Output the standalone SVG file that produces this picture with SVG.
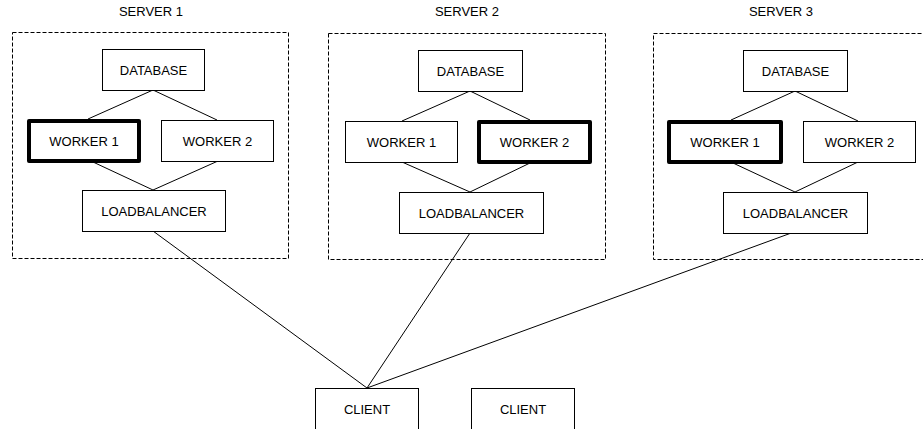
<svg xmlns="http://www.w3.org/2000/svg" width="923" height="429" viewBox="0 0 923 429">
  <style>
    .bg { fill: #ffffff; }
    .server { fill: none; stroke: #000; stroke-width: 1; stroke-dasharray: 4 2; }
    .box { fill: #fff; stroke: #000; stroke-width: 1; }
    .active { fill: #fff; stroke: #000; stroke-width: 4; stroke-linejoin: round; }
    .label { font-family: "Liberation Sans", Arial, sans-serif; font-size: 13px; fill: #000; text-anchor: middle; }
    .link { fill: none; stroke: #000; stroke-width: 1; }
  </style>
  <rect class="bg" x="0" y="0" width="923" height="429"/>

  <!-- server containers -->
  <g id="server1">
    <rect class="server" x="12.5" y="32.5" width="276" height="226"/>
    <text class="label" x="151" y="16">SERVER 1</text>
  </g>
  <g id="server2">
    <rect class="server" x="328.5" y="33.5" width="277" height="226"/>
    <text class="label" x="467" y="16">SERVER 2</text>
  </g>
  <g id="server3">
    <rect class="server" x="653.5" y="33.5" width="290" height="226"/>
    <text class="label" x="781" y="16">SERVER 3</text>
  </g>

  <!-- connectors -->
  <g id="connectors">
    <!-- server 1 -->
    <line class="link" x1="153" y1="90" x2="88" y2="119"/>
    <line class="link" x1="153" y1="90" x2="217" y2="120"/>
    <line class="link" x1="93" y1="162" x2="153" y2="190"/>
    <line class="link" x1="218" y1="161" x2="153" y2="190"/>
    <!-- server 2 -->
    <line class="link" x1="470" y1="91" x2="402" y2="121"/>
    <line class="link" x1="470" y1="91" x2="530" y2="120"/>
    <line class="link" x1="402" y1="162" x2="470" y2="192"/>
    <line class="link" x1="530" y1="163" x2="470" y2="192"/>
    <!-- server 3 -->
    <line class="link" x1="795" y1="91" x2="731" y2="120"/>
    <line class="link" x1="795" y1="91" x2="858" y2="121"/>
    <line class="link" x1="733" y1="163" x2="795" y2="192"/>
    <line class="link" x1="858" y1="162" x2="795" y2="192"/>
    <!-- load balancers to client -->
    <line class="link" x1="153" y1="231" x2="367" y2="388"/>
    <line class="link" x1="470" y1="233" x2="367" y2="388"/>
    <line class="link" x1="794" y1="232" x2="367" y2="388"/>
  </g>

  <!-- server 1 nodes -->
  <g id="s1-database">
    <rect class="box" x="102.5" y="49.5" width="102" height="41"/>
    <text class="label" x="153.5" y="75">DATABASE</text>
  </g>
  <g id="s1-worker1">
    <rect class="active" x="29" y="121" width="110" height="40"/>
    <text class="label" x="84" y="146">WORKER 1</text>
  </g>
  <g id="s1-worker2">
    <rect class="box" x="161.5" y="120.5" width="112" height="41"/>
    <text class="label" x="217.5" y="146">WORKER 2</text>
  </g>
  <g id="s1-loadbalancer">
    <rect class="box" x="82.5" y="190.5" width="143" height="41"/>
    <text class="label" x="154" y="216">LOADBALANCER</text>
  </g>

  <!-- server 2 nodes -->
  <g id="s2-database">
    <rect class="box" x="418.5" y="50.5" width="104" height="41"/>
    <text class="label" x="470.5" y="76">DATABASE</text>
  </g>
  <g id="s2-worker1">
    <rect class="box" x="345.5" y="121.5" width="112" height="41"/>
    <text class="label" x="401.5" y="147">WORKER 1</text>
  </g>
  <g id="s2-worker2">
    <rect class="active" x="479" y="122" width="111" height="40"/>
    <text class="label" x="534.5" y="147">WORKER 2</text>
  </g>
  <g id="s2-loadbalancer">
    <rect class="box" x="399.5" y="192.5" width="144" height="41"/>
    <text class="label" x="471.5" y="218">LOADBALANCER</text>
  </g>

  <!-- server 3 nodes -->
  <g id="s3-database">
    <rect class="box" x="743.5" y="50.5" width="104" height="41"/>
    <text class="label" x="795.5" y="76">DATABASE</text>
  </g>
  <g id="s3-worker1">
    <rect class="active" x="669" y="122" width="112" height="40"/>
    <text class="label" x="725" y="147">WORKER 1</text>
  </g>
  <g id="s3-worker2">
    <rect class="box" x="803.5" y="121.5" width="112" height="41"/>
    <text class="label" x="859.5" y="147">WORKER 2</text>
  </g>
  <g id="s3-loadbalancer">
    <rect class="box" x="723.5" y="192.5" width="144" height="41"/>
    <text class="label" x="795.5" y="218">LOADBALANCER</text>
  </g>

  <!-- clients -->
  <g id="client1">
    <rect class="box" x="315.5" y="388.5" width="103" height="60"/>
    <text class="label" x="367" y="414">CLIENT</text>
  </g>
  <g id="client2">
    <rect class="box" x="471.5" y="388.5" width="103" height="60"/>
    <text class="label" x="523" y="414">CLIENT</text>
  </g>
</svg>
